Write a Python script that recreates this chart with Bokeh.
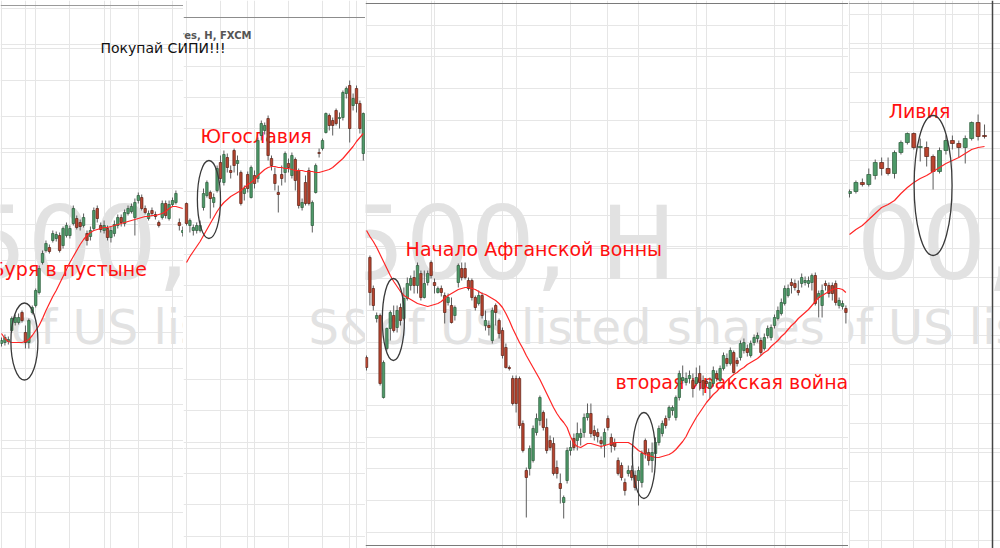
from bokeh.plotting import figure
from bokeh.layouts import row
from bokeh.models import ColumnDataSource, Range1d, FixedTicker, Grid, Span
from bokeh.core.properties import value
from bokeh.embed import file_html
from bokeh.resources import INLINE

# ---------------- DATA (price level, bar index) ----------------
# Panel A: 1990-91 "Буря в пустыне"
a_open  = [205,206,207,218,226,226,236,216,206,236,243,256,286,298,301,308,310,313,303,313,313,325,330,326,323,315,312,320,340,323,318,320,311,315,323,331,325,335,337,331,348,351,340,330,338,334,326,331,345,330,344,346,326,316]
a_high  = [211,214,212,232,234,235,238,223,230,243,260,283,298,308,304,318,317,316,322,326,323,343,333,329,335,318,322,341,343,326,328,323,322,328,334,334,339,343,345,350,356,354,343,338,341,337,328,348,348,348,351,358,330,322]
a_low   = [202,203,204,216,223,224,226,200,200,234,241,254,284,296,295,306,307,296,300,311,310,323,319,318,321,303,308,318,326,316,315,308,306,312,320,322,322,333,335,313,345,338,334,328,332,329,321,329,330,328,342,344,318,312]
a_close = [208,211,209,230,231,231,228,206,228,241,258,280,295,305,297,315,314,298,320,323,320,340,321,322,331,308,318,338,330,319,323,311,318,324,331,326,336,340,342,346,353,340,336,335,335,332,323,345,333,344,348,355,323,318]
a_ma    = [215,210,207,206,206,206,206,207,209,213,218,223,230,238,245,252,258,265,272,279,286,292,298,304,309,313,316,318,319,320,321,321,322,323,324,325,326,327,328,329,330,331,332,332,333,333,334,335,337,340,342,342,341,340]

# Panel B: 1999 "Югославия"
b_open  = [345,323,318,318,318,341,353,356,346,358,386,366,391,378,398,385,376,355,374,351,373,370,413,418,430,390,374,356,374,376,385,373,389,378,341,366,378,323,356,396,400,416,433,428,438,430,431,455,463,443,460,445,395]
b_high  = [346,330,324,326,328,360,368,358,355,383,393,398,395,383,400,393,378,363,377,383,378,411,428,426,433,393,381,363,383,397,390,396,391,380,350,373,381,348,385,400,410,436,435,431,440,436,458,462,468,455,463,448,436]
b_low   = [323,316,313,315,316,338,351,330,341,356,366,363,376,370,376,373,343,348,356,350,360,366,408,414,388,378,358,336,363,366,376,370,358,340,338,343,343,316,355,391,398,415,418,413,423,420,428,450,406,438,436,415,388]
b_close = [325,328,321,323,323,355,366,350,351,380,370,394,381,376,383,388,345,360,360,381,365,408,425,423,393,383,365,354,370,395,381,393,368,343,346,345,345,346,383,395,408,435,423,423,425,431,456,460,420,450,445,420,435]
b_ma    = [286,292,297,302,307,313,319,325,331,337,342,346,349,352,354,356,358,361,364,366,369,373,376,379,381,382,382,381,381,380,380,379,378,378,378,377,377,377,376,376,377,378,379,381,384,387,390,394,398,402,407,411,415]

# Panel C: 2001-2003
c_open  = [191,291,260,230,233,151,200,220,233,221,
           241,230,250,263,271,263,275,251,266,286,
           266,256,260,253,246,243,233,266,280,280,
           268,268,251,245,253,223,223,208,243,228,
           218,201,181,170,170,170,125,78,80,88,
           116,128,136,121,108,105,81,65,46,68,
           98,110,108,111,116,131,135,118,116,108,
           103,130,111,106,88,83,66,75,78,73,
           68,66,108,96,88,95,106,115,130,131,
           138,131,151,168,166,170,168,165,175,168,
           167,160,165,175,168,180,190,185,196,188,
           191,198,200,193,206,210,208,200,213,211,
           223,230,235,245,253,266,265,258,265,266,
           265,266,273,251,243,265,263,263,265,243,
           242,240]
c_high  = [193,293,263,236,235,188,221,238,243,243,
           245,261,271,273,278,286,278,278,278,288,
           270,262,263,256,255,251,243,285,286,286,
           271,270,253,258,256,238,228,241,245,230,
           221,205,183,173,173,172,128,81,103,123,
           135,153,138,130,113,111,88,75,53,101,
           108,115,126,120,135,145,145,123,120,112,
           120,133,115,110,91,86,70,83,83,78,
           82,98,110,100,106,111,123,128,133,143,
           143,153,178,183,176,178,175,181,183,173,
           170,171,182,178,183,196,195,201,198,191,
           208,210,204,208,214,216,211,215,223,224,
           234,242,250,263,264,270,269,268,275,272,
           272,275,276,258,264,268,266,266,268,251,
           248,243]
c_low   = [178,243,238,226,163,150,198,208,216,216,
           223,228,248,258,255,255,248,250,263,270,
           255,255,252,225,243,225,228,261,268,269,
           258,248,238,243,230,218,213,205,223,210,
           190,180,178,143,136,120,96,31,73,86,
           113,123,118,95,98,73,70,45,30,65,
           93,98,98,103,111,128,111,108,106,100,
           91,118,96,98,73,68,53,72,68,58,
           43,61,90,83,76,90,103,112,120,128,
           133,128,148,165,163,165,151,163,158,153,
           162,150,162,167,166,178,182,183,175,182,
           188,195,192,191,203,206,193,198,210,208,
           220,228,233,243,251,255,258,253,261,263,
           261,258,243,231,231,258,251,248,243,240,
           239,225]
c_close = [181,256,243,233,165,186,220,236,218,238,
           228,250,265,270,263,283,251,265,275,273,
           263,260,256,236,251,226,241,283,271,271,
           260,251,241,253,233,228,221,238,236,215,
           193,181,180,145,145,123,98,71,100,120,
           130,151,121,98,101,75,75,60,51,98,
           101,101,115,115,131,135,115,113,112,105,
           116,121,103,102,75,71,58,78,71,61,
           78,95,95,88,96,106,120,125,123,141,
           141,151,175,171,170,173,160,171,166,160,
           165,166,178,170,180,193,185,198,176,185,
           205,206,196,205,211,213,196,211,220,221,
           231,238,246,260,260,263,261,256,271,268,
           268,273,245,255,258,263,255,255,246,248,
           245,236]
c_ma    = [318,312,307,301,294,287,280,273,267,262,
           257,253,251,249,247,245,244,243,242,243,
           244,245,247,250,253,255,257,259,260,261,
           261,260,259,257,255,254,252,250,248,245,
           241,235,228,220,213,206,200,193,187,181,
           175,169,162,155,148,141,135,130,126,121,
           112,105,102,101,103,105,105,104,103,102,
           103,104,105,106,106,106,106,106,104,101,
           98,96,94,93,92,91,91,92,93,94,
           96,99,103,107,112,119,125,131,136,141,
           146,150,154,157,161,164,168,171,174,176,
           179,181,184,186,188,190,193,196,198,202,
           205,208,212,215,219,223,226,230,233,236,
           239,243,247,251,253,255,257,259,260,260,
           259,256]

# Panel D: 2011 "Ливия"
d_open  = [355,357,366,364,373,386,380,375,396,406,415,401,401,392,377,398,408,405,401,410,426,413]
d_high  = [359,368,370,380,389,391,391,398,408,416,416,410,407,394,401,413,413,408,413,427,434,424]
d_low   = [351,355,362,362,369,373,373,370,394,404,399,387,382,359,375,394,399,391,385,408,408,410]
d_close = [357,366,364,374,386,380,375,396,406,415,401,402,392,377,398,408,405,401,410,426,412,412]
d_ma    = [314,319,323,329,335,341,344,348,355,361,366,370,373,377,381,385,388,391,395,399,401,402]

# Event labels: (bar index, level of text centre, text)
a_events = [(-2.9, 280, "Буря в пустыне")]
b_events = [(4.1, 413, "Югославия")]
c_events = [(11.5, 300, "Начало Афганской вонны"), (73.2, 167, "вторая иракская война")]
d_events = [(6.1, 438, "Ливия")]

# Highlight ellipses: (bar index, level, width in bars, height in levels)
a_marks = [(6.7, 207, 7.9, 77)]
b_marks = [(6.6, 349, 6.8, 78)]
c_marks = [(7.9, 229, 6.5, 82), (81.6, 93, 6.8, 86)]
d_marks = [(13.0, 363, 5.9, 140)]

# ---------------- STYLE ----------------
GREEN, GREEN_LINE = "#4e9a69", "#2c5a3b"
RED, RED_LINE = "#b9442f", "#5a2116"
WICK = "#5c5c5c"
MA_COLOR = "#ff2626"
GRID = "#e6e6e6"
WATER = "#e2e2e2"
HEIGHT = 548


def make_panel(width, xr, xgrid, ygrid):
    p = figure(width=width, height=HEIGHT, x_range=Range1d(*xr), y_range=Range1d(0, 548),
               output_backend="svg", toolbar_location=None, min_border=0,
               x_axis_location=None, y_axis_location=None,
               outline_line_color=None, background_fill_color="white",
               border_fill_color="white")
    p.add_layout(Grid(dimension=0, ticker=FixedTicker(ticks=xgrid),
                      grid_line_color=GRID, grid_line_width=1))
    p.add_layout(Grid(dimension=1, ticker=FixedTicker(ticks=ygrid),
                      grid_line_color=GRID, grid_line_width=1))
    return p


def txt(p, x, y, s, color, size, align="left", style="normal"):
    p.text(x=x, y=y, text=s, text_color=color,
           text_font=value("DejaVu Sans"), text_font_size=value(size),
           text_font_style=style, text_baseline="middle", text_align=align)


def watermark(p, items):
    for x, y, s, size in items:
        txt(p, [x], [y], [s], WATER, size)


def labels(p, events):
    txt(p, [e[0] for e in events], [e[1] for e in events], [e[2] for e in events],
        "#ff1010", "19px")


def candles(p, o, h, l, c, ma, body_w):
    idx = list(range(len(o)))
    up = [cc >= oo for oo, cc in zip(o, c)]
    src = ColumnDataSource(dict(
        x=idx, h=h, l=l,
        top=[max(a, b) for a, b in zip(o, c)],
        bot=[min(a, b) for a, b in zip(o, c)],
        fill=[GREEN if u else RED for u in up],
        line=[GREEN_LINE if u else RED_LINE for u in up]))
    p.segment(x0="x", y0="h", x1="x", y1="l", source=src, line_color=WICK, line_width=1)
    p.vbar(x="x", width=body_w, top="top", bottom="bot", source=src,
           fill_color="fill", line_color="line", line_width=0.7)
    p.line(idx, ma, line_color=MA_COLOR, line_width=1.2)


def ellipses(p, marks):
    p.ellipse(x=[m[0] for m in marks], y=[m[1] for m in marks],
              width=[m[2] for m in marks], height=[m[3] for m in marks],
              fill_color=None, line_color="#3a3a3a", line_width=1.3)


Y_GRID_A = [36, 72, 108, 144, 180, 216, 252, 288, 324, 360, 396, 432, 468, 504, 540]
Y_GRID_B = [12, 44, 75, 106, 138, 169, 200, 232, 263, 294, 326, 357, 388, 420, 451, 482]
Y_GRID_C = [16.3, 48, 79.7, 111.4, 143.1, 174.8, 206.5, 238.2, 269.9, 301.6,
            333.3, 365, 396.7, 428.4, 460.1, 491.8, 523.5]
Y_GRID_D = [8, 38, 67, 96, 125, 154, 184, 213, 242, 271, 300, 330, 359, 388, 417, 446, 476, 505, 534]

# ---------------- PANEL A ----------------
pa = make_panel(183, (-0.292, 53.216), [7.02, 31.87], Y_GRID_A)
watermark(pa, [(-11.4, 305, "500, H", "102px"), (2.78, 222, "of US listed shares", "48px")])
labels(pa, a_events)
candles(pa, a_open, a_high, a_low, a_close, a_ma, 0.72)
ellipses(pa, a_marks)
txt(pa, [28.95], [501], ["Покупай СИПИ!!!"], "#111111", "14px")
pa.add_layout(Span(location=543, dimension="width", line_color="#9a9a9a", line_width=1))

# ---------------- PANEL B ----------------
pb = make_panel(182, (-0.882, 52.647), [17.94, 47.94], Y_GRID_B)
watermark(pb, [(35.9, 222, "S&P", "48px")])
labels(pb, b_events)
candles(pb, b_open, b_high, b_low, b_close, b_ma, 0.72)
ellipses(pb, b_marks)
txt(pb, [-25.29], [501], ["Покупай СИПИ!!!"], "#111111", "14px")
txt(pb, [19.1], [513.5], ["S&P 500 Index of US listed shares, H, FXCM"], "#555555", "10px",
    align="right", style="bold")
pb.add_layout(Span(location=531, dimension="width", line_color="#8c8c8c", line_width=1))

# ---------------- PANEL C ----------------
pc = make_panel(483, (-0.294, 141.765), [19.12, 44.12, 70.88, 97.06, 123.24], Y_GRID_C)
watermark(pc, [(-7.65, 305, "500, H", "102px"), (3.53, 222, "of US listed shares", "48px")])
labels(pc, c_events)
candles(pc, c_open, c_high, c_low, c_close, c_ma, 0.72)
ellipses(pc, c_marks)
pc.add_layout(Span(location=545, dimension="width", line_color="#7a7a7a", line_width=1))
pc.add_layout(Span(location=3, dimension="width", line_color="#7a7a7a", line_width=1))

# ---------------- PANEL D ----------------
pd_ = make_panel(152, (-0.156, 23.484), [2.95, 16.02], Y_GRID_D)
watermark(pd_, [(-9.0, 305, "500, H", "102px"), (-3.58, 222, "of US listed shares", "48px")])
labels(pd_, d_events)
candles(pd_, d_open, d_high, d_low, d_close, d_ma, 0.62)
ellipses(pd_, d_marks)
pd_.add_layout(Span(location=545, dimension="width", line_color="#9a9a9a", line_width=1))
pd_.add_layout(Span(location=22.24, dimension="height", line_color="#444444", line_width=1.5))

layout = row(pa, pb, pc, pd_)
open("out.html", "w").write(file_html(layout, INLINE))
